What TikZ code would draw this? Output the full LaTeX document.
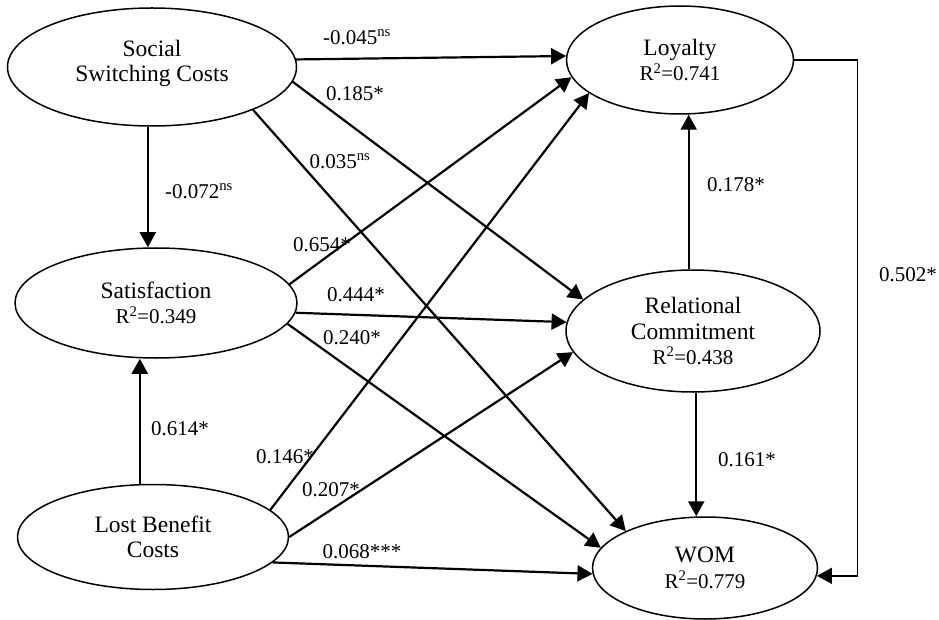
\documentclass[tikz,border=0pt]{standalone}
\usepackage{fontspec}
\setmainfont{Liberation Serif}
\usetikzlibrary{shapes.geometric,arrows.meta}

\newcommand{\rsquare}[1]{{\fontsize{21}{24}\selectfont R\textsuperscript{2}=#1}}

\begin{document}
\begin{tikzpicture}[x=1pt,y=-1pt,
	latent/.style={draw,ellipse,line width=1.5pt,inner sep=0pt,align=center,font=\fontsize{23.5}{25.5}\selectfont},
	effect/.style={-{Triangle[length=15pt,width=16pt]},line width=2.2pt},
	coef/.style={font=\fontsize{21}{24}\selectfont,inner sep=0pt}]
	\useasboundingbox (0,0) rectangle (939,620);
	% constructs
	\node[latent,minimum width=289pt,minimum height=118pt] (ssc) at (152,67) {Social\\Switching Costs\\[-13pt]};
	\node[latent,minimum width=282pt,minimum height=110pt] (sat) at (156,303) {Satisfaction\\\rsquare{0.349}};
	\node[latent,minimum width=271pt,minimum height=105pt] (lbc) at (153,537) {Lost Benefit\\Costs};
	\node[latent,minimum width=227pt,minimum height=108pt] (loy) at (680,60) {Loyalty\\\rsquare{0.741}};
	\node[latent,minimum width=254pt,minimum height=122pt] (rc) at (693,331) {Relational\\Commitment\\\rsquare{0.438}};
	\node[latent,minimum width=225pt,minimum height=102pt] (wom) at (705,568) {WOM\\\rsquare{0.779}};
	% paths
	\draw[effect] (ssc.3) -- (loy.178);
	\draw[effect] (ssc.-6) -- (rc.164);
	\draw[effect] (ssc.-23) -- (wom.155);
	\draw[effect] (ssc.-94) -- (ssc.-94 |- sat.north);
	\draw[effect] (sat.8) -- (loy.189);
	\draw[effect] (sat.-4) -- (rc.176);
	\draw[effect] (sat.-9) -- (wom.169);
	\draw[effect] (lbc.104) -- (lbc.104 |- sat.south);
	\draw[effect] (lbc.13) -- (loy.200);
	\draw[effect] (lbc.0) -- (rc.190);
	\draw[effect] (lbc.-12) -- (wom.183);
	\draw[effect] (rc.94) -- (rc.94 |- loy.south);
	\draw[effect] (rc.-87) -- (rc.-87 |- wom.north);
	\draw[effect,line width=1.5pt] (loy.east) -- ++(63,0) |- (wom.-4);
	% coefficients
	\node[coef] (b1) at (357,37) {-0.045\textsuperscript{ns}};
	\node[coef] (b2) at (355,94) {0.185*};
	\node[coef] (b3) at (340,161) {0.035\textsuperscript{ns}};
	\node[coef] (b4) at (199,191) {-0.072\textsuperscript{ns}};
	\node[coef] (b5) at (322,245) {0.654*};
	\node[coef] (b6) at (356,295) {0.444*};
	\node[coef] (b7) at (352,338) {0.240*};
	\node[coef] (b8) at (180,429) {0.614*};
	\node[coef] (b9) at (285,457) {0.146*};
	\node[coef] (b10) at (331,490) {0.207*};
	\node[coef] (b11) at (362,552) {0.068***};
	\node[coef] (b12) at (736,185) {0.178*};
	\node[coef] (b13) at (747,460) {0.161*};
	\node[coef] (b14) at (908,275) {0.502*};
\end{tikzpicture}
\end{document}
